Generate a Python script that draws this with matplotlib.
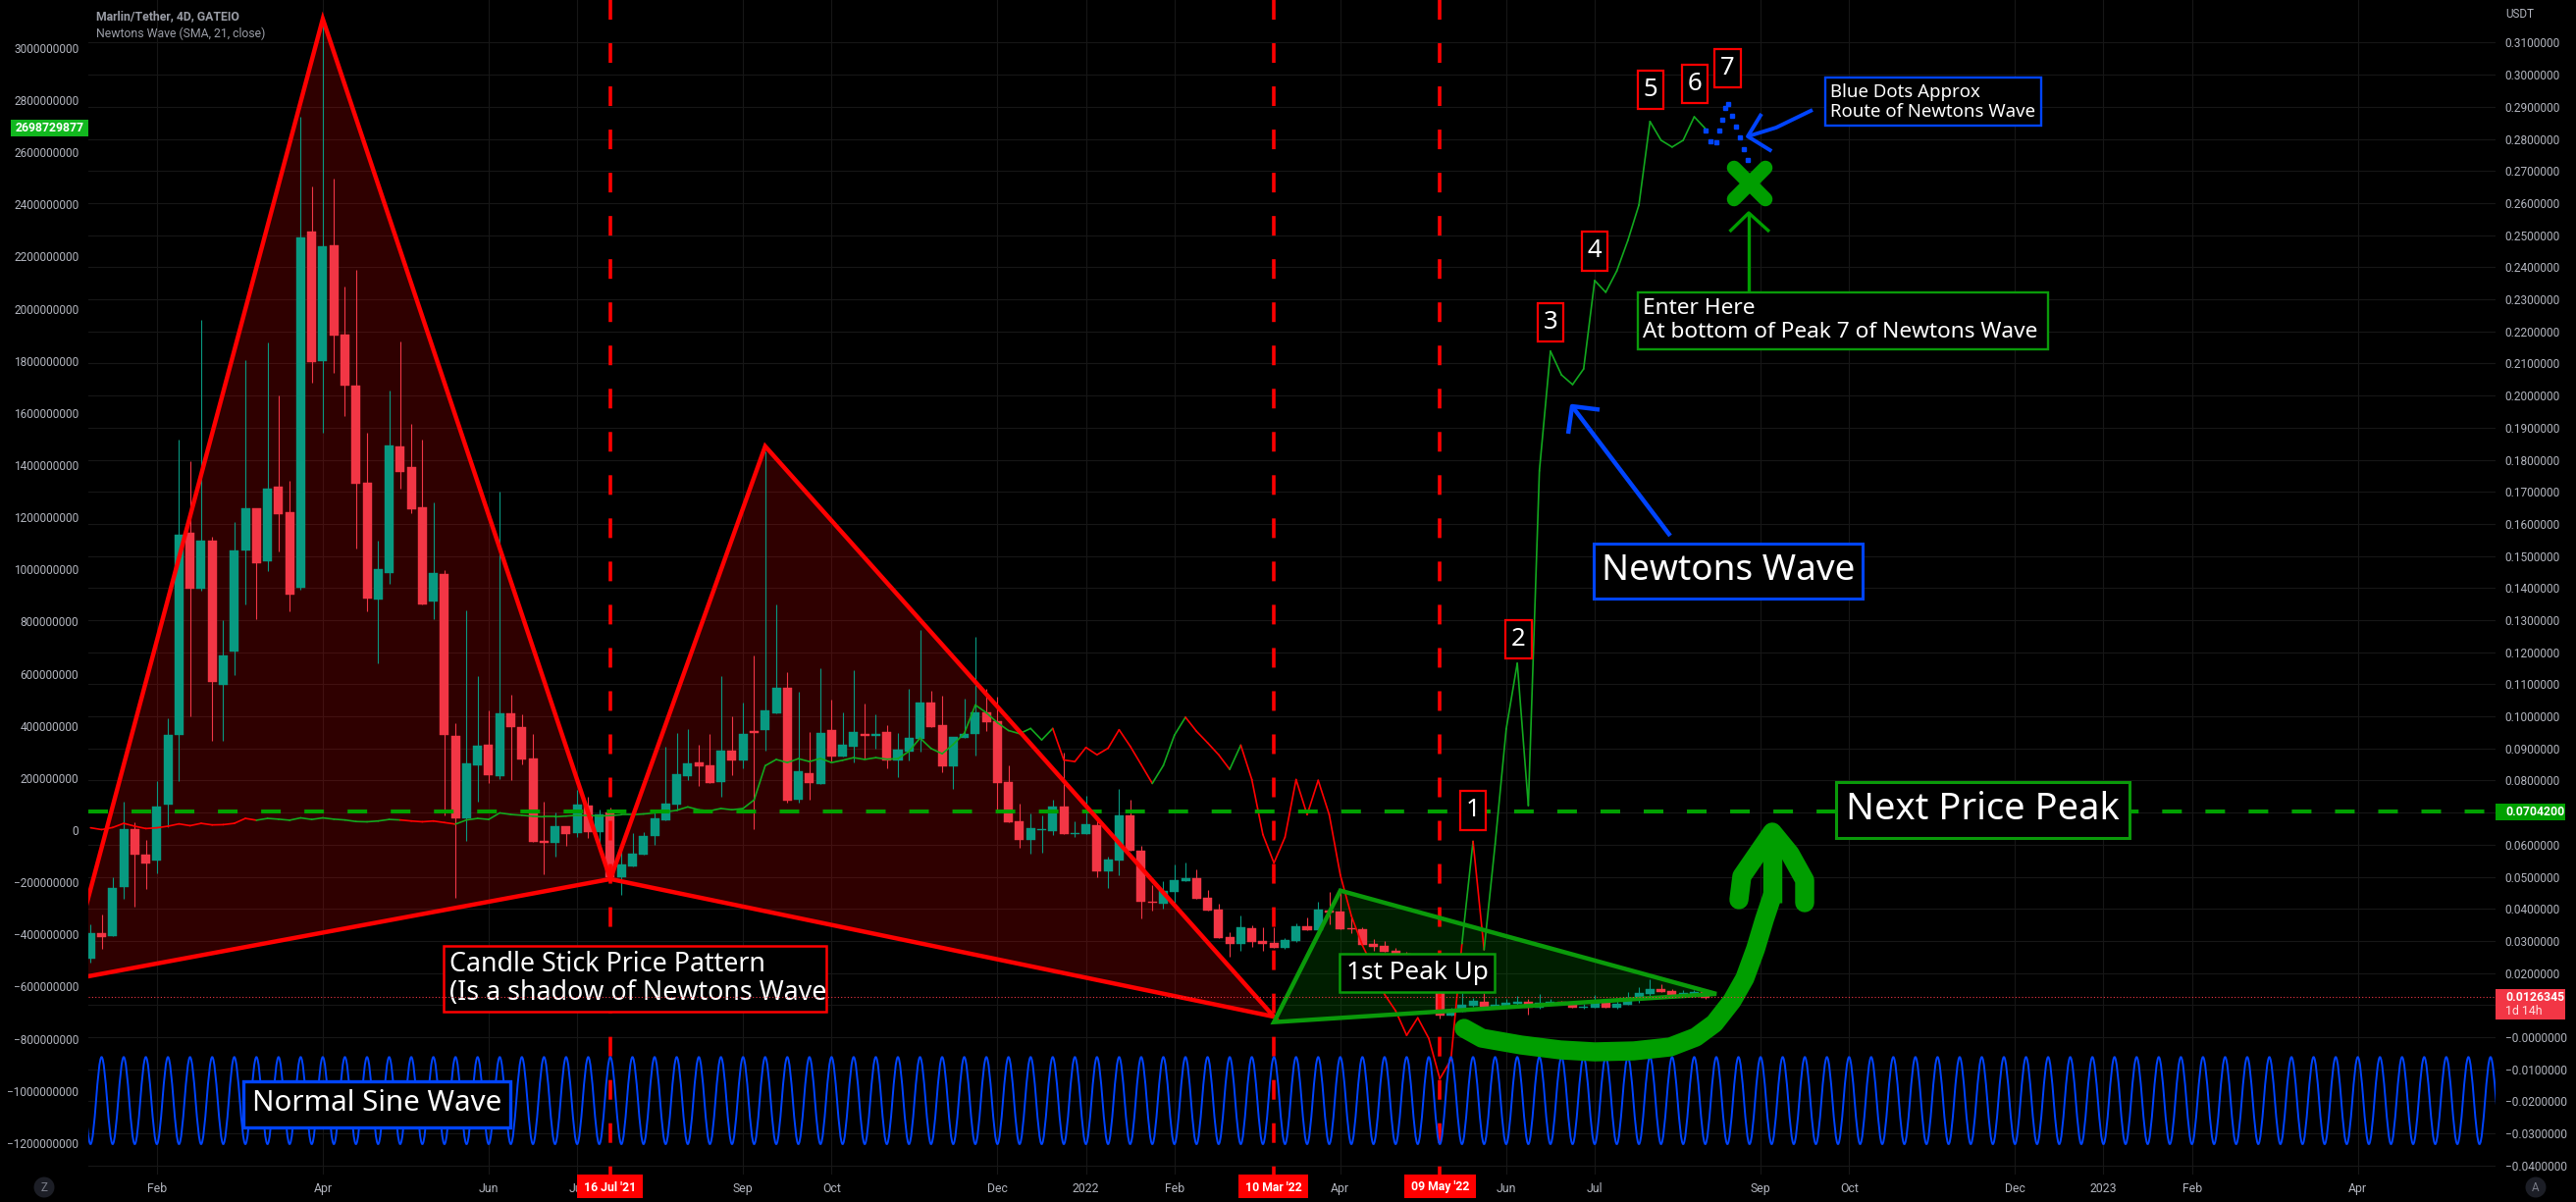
import numpy as np
import matplotlib
matplotlib.use('Agg')
import matplotlib.pyplot as plt
from matplotlib.patches import Rectangle, Polygon, Circle, PathPatch
from matplotlib.path import Path
from matplotlib.transforms import Affine2D

W, H = 2625, 1225
UI_FONT = 'Roboto'
NOTE_FONT = 'Noto Sans'

# candles, one every 4 days, first_bar is counted from the 16 Jul '21 bar
first_bar = -47
opens = [
    .0245, .0324, .0315, .0468, .0649, .0569, .0551, .0725, .0941, .1572,
    .1398, .1548, .1098, .1202, .1517, .1649, .1484, .1716, .1637, .1401,
    .2511, .2108, .2469, .2190, .2031, .1728, .1364, .1447, .1842, .1777,
    .1652, .1358, .1444, .0939, .0682, .0847, .0912, .0814, .1009, .0967,
    .0869, .0612, .0606, .0658, .0636, .0722, .0639, .0701, .0499, .0532,
    .0569, .0627, .0676, .0725, .0814, .0857, .0847, .0795, .0893, .0863,
    .0954, .0957, .1009, .1089, .0740, .0823, .0789, .0957, .0875, .0905,
    .0945, .0939, .0951, .0863, .0890, .0930, .1043, .0973, .0844, .0933,
    .0945, .1013, .0985, .0795, .0673, .0615, .0645, .0642, .0719, .0633,
    .0633, .0661, .0517, .0551, .0691, .0581, .0422, .0416, .0453, .0486,
    .0496, .0434, .0398, .0312, .0291, .0340, .0300, .0294, .0278, .0300,
    .0346, .0333, .0395, .0392, .0340, .0336, .0291, .0284, .0269, .0260,
    .0236, .0205, .0174, .0067, .0080, .0098, .0110, .0095, .0098, .0104,
    .0110, .0092, .0104, .0110, .0107, .0092, .0092, .0107, .0092, .0101,
    .0119, .0135, .0150, .0144, .0128, .0135, .0141]
highs = [
    .0352, .0382, .0499, .0734, .0670, .0615, .0798, .0994, .1863, .1796,
    .2236, .1559, .1300, .1606, .2111, .1649, .2166, .2001, .1734, .2869,
    .2652, .3172, .2677, .2340, .2392, .1884, .1548, .2016, .2169, .1912,
    .1863, .1667, .1456, .0979, .1331, .1126, .1019, .1701, .1068, .1006,
    .0945, .0734, .0701, .0658, .0771, .0749, .0710, .0716, .0593, .0636,
    .0639, .0704, .0905, .0948, .0961, .0912, .0945, .1126, .1000, .1043,
    .1190, .1826, .1349, .1138, .1077, .0951, .1150, .1052, .1013, .1144,
    .1040, .1006, .0973, .0948, .1086, .1269, .1080, .1065, .0936, .1055,
    .1248, .1086, .1061, .0847, .0728, .0697, .0691, .0740, .0887, .0673,
    .0753, .0679, .0563, .0774, .0740, .0597, .0474, .0486, .0538, .0545,
    .0523, .0459, .0416, .0327, .0379, .0349, .0343, .0343, .0309, .0355,
    .0373, .0422, .0453, .0453, .0373, .0343, .0306, .0300, .0278, .0266,
    .0245, .0210, .0190, .0092, .0138, .0122, .0138, .0122, .0119, .0128,
    .0119, .0135, .0119, .0113, .0107, .0104, .0132, .0110, .0113, .0141,
    .0156, .0180, .0165, .0150, .0147, .0147, .0144]
lows = [
    .0232, .0275, .0315, .0431, .0407, .0462, .0511, .0655, .0798, .1000,
    .1393, .0924, .0924, .1129, .1349, .1303, .1453, .1514, .1328, .1395,
    .2040, .1884, .2071, .1936, .1523, .1328, .1165, .1413, .1710, .1634,
    .1349, .1303, .0691, .0434, .0612, .0734, .0792, .0805, .0801, .0850,
    .0609, .0508, .0563, .0597, .0624, .0621, .0593, .0499, .0444, .0532,
    .0569, .0600, .0676, .0707, .0801, .0783, .0792, .0749, .0817, .0838,
    .0649, .0893, .1009, .0731, .0731, .0740, .0789, .0860, .0875, .0857,
    .0869, .0899, .0838, .0811, .0863, .0890, .0967, .0826, .0774, .0933,
    .0878, .0954, .0710, .0670, .0590, .0572, .0575, .0630, .0633, .0624,
    .0633, .0499, .0465, .0505, .0581, .0370, .0395, .0401, .0410, .0486,
    .0431, .0395, .0309, .0251, .0269, .0281, .0269, .0278, .0275, .0297,
    .0333, .0333, .0352, .0336, .0324, .0288, .0269, .0266, .0251, .0230,
    .0200, .0170, .0058, .0067, .0080, .0095, .0092, .0092, .0095, .0101,
    .0070, .0089, .0101, .0101, .0092, .0089, .0092, .0092, .0089, .0101,
    .0107, .0122, .0141, .0125, .0125, .0132, .0119]
closes = [
    .0324, .0312, .0465, .0649, .0569, .0541, .0719, .0942, .1566, .1398,
    .1548, .1107, .1190, .1517, .1649, .1478, .1710, .1630, .1380, .2493,
    .2105, .2466, .2187, .2031, .1725, .1367, .1459, .1845, .1762, .1646,
    .1349, .1447, .0941, .0682, .0853, .0909, .0817, .1009, .0967, .0866,
    .0609, .0606, .0658, .0633, .0725, .0639, .0694, .0499, .0538, .0572,
    .0627, .0682, .0728, .0820, .0853, .0844, .0792, .0893, .0863, .0945,
    .0948, .1019, .1089, .0737, .0829, .0792, .0948, .0875, .0912, .0951,
    .0939, .0945, .0863, .0896, .0933, .1043, .0967, .0844, .0936, .0945,
    .1013, .0982, .0792, .0670, .0615, .0652, .0649, .0719, .0633, .0636,
    .0664, .0517, .0554, .0691, .0581, .0422, .0419, .0456, .0489, .0496,
    .0431, .0395, .0309, .0291, .0343, .0297, .0291, .0278, .0303, .0346,
    .0333, .0398, .0388, .0336, .0336, .0288, .0281, .0266, .0260, .0236,
    .0205, .0174, .0067, .0086, .0101, .0113, .0095, .0101, .0107, .0110,
    .0092, .0107, .0110, .0104, .0092, .0095, .0107, .0092, .0104, .0122,
    .0138, .0150, .0141, .0128, .0138, .0141, .0122]

# Newtons Wave indicator, left scale, in millions
wave_millions = [
    9, 2, 10, 26, 15, 6, 9, 15, 24, 17,
    26, 20, 21, 26, 45, 38, 45, 42, 38, 47,
    41, 47, 42, 39, 33, 32, 35, 41, 39, 35,
    32, 35, 29, 23, 39, 45, 41, 66, 60, 57,
    53, 51, 51, 54, 57, 57, 54, 56, 59, 59,
    62, 66, 70, 76, 89, 78, 74, 83, 78, 83,
    116, 247, 271, 259, 274, 263, 275, 259, 268, 278,
    271, 278, 272, 274, 302, 353, 313, 293, 329, 371,
    480, 450, 412, 382, 370, 390, 346, 390, 269, 263,
    317, 289, 314, 385, 322, 251, 179, 248, 364, 433,
    379, 335, 289, 233, 326, 194, -17, -126, -27, 194,
    59, 191, 59, -172, -329, -442, -530, -630, -693, -787,
    -720, -799, -954, -881, -435, -43, -459, -53, 388, 640,
    94, 1378, 1837, 1746, 1709, 1769, 2108, 2063, 2145, 2262,
    2398, 2718, 2646, 2620, 2646, 2736, 2691]
wave_red_spans = [(-47, -32), (-19, -14), (40, 49), (52, 56), (57, 77), (78, 79)]

date_bars = [-41, -26, -11, -3, 12, 20, 35, 43, 51, 66, 81, 89, 104, 112, 127, 135, 143, 158]
date_labels = ['Feb', 'Apr', 'Jun', 'Jul', 'Sep', 'Oct', 'Dec', '2022', 'Feb', 'Apr', 'Jun',
               'Jul', 'Sep', 'Oct', 'Dec', '2023', 'Feb', 'Apr']
marked_bars = [0, 60, 75]
marked_labels = ["16 Jul '21", "10 Mar '22", "09 May '22"]

right_ticks = [round(0.31 - 0.01 * k, 2) for k in range(36)]
left_ticks = [3000000000 - 200000000 * k for k in range(22)]

level_price = 0.0704
last_price = 0.0126
sine_high = -0.0062
sine_low = -0.0333

# pattern vertices, (bar, price)
red_left = [(-49.2, .0177), (-26, .3174), (0, .0493)]
red_right = [(0, .0493), (14, .1842), (60, .0064)]
green_tri = [(60, .0047), (66, .0457), (100, .0135)]

fig = plt.figure(figsize=(W / 100, H / 100), dpi=100, facecolor='black')
plt.rcParams['lines.scale_dashes'] = False
px = Affine2D().scale(1 / W, -1 / H).translate(0, 1) + fig.transFigure

ax = fig.add_axes([90 / W, 1 - 1197 / H, (2543 - 90) / W, 1197 / H])
ax_left = ax.twinx()
ax.set_zorder(2)
ax.patch.set_visible(False)
ax_left.patch.set_visible(False)
ax.set_xlim(-47.2, 170.45)
ax.set_ylim(-0.0428, 0.3233)
ax_left.set_ylim(-1321000000, 3184000000)
for a in (ax, ax_left):
    for s in a.spines.values():
        s.set_visible(False)

# axes
ax.yaxis.tick_right()
ax.set_yticks(right_ticks)
right_labels = []
for t in right_ticks:
    if t in (0.07, 0.01):
        right_labels.append('')
    elif t <= 0:
        right_labels.append('\u2212%.7f' % abs(t))
    else:
        right_labels.append('%.7f' % t)
ax.set_yticklabels(right_labels, fontfamily=UI_FONT, fontsize=8.6, color='#b2b5be')
ax.tick_params(axis='y', length=0, pad=7)
ax_left.yaxis.tick_left()
ax_left.set_yticks(left_ticks)
ax_left.set_yticklabels([str(t).replace('-', '\u2212') for t in left_ticks],
                        fontfamily=UI_FONT, fontsize=8.6, color='#b2b5be')
ax_left.tick_params(axis='y', length=0, pad=7)
ax.set_xticks(date_bars)
ax.set_xticklabels(date_labels, fontfamily=UI_FONT, fontsize=8.8, color='#b2b5be')
ax.tick_params(axis='x', length=0, pad=6)
ax.grid(True, color='#161616', lw=0.8, zorder=0)
ax.set_axisbelow(True)

# pattern fills go under the candles
for tri, col in [(red_left, (1, 0, 0, .19)), (red_right, (1, 0, 0, .19)), (green_tri, (0, .6, 0, .2))]:
    ax.add_patch(Polygon(tri, closed=True, fc=col, ec='none', zorder=1))

# candles
bars = np.arange(first_bar, first_bar + len(opens))
o, h, l, c = map(np.array, (opens, highs, lows, closes))
cols = np.where(c >= o, '#089981', '#f23645')
ax.vlines(bars, l, h, colors=cols, lw=0.8, zorder=2)
ax.bar(bars, np.abs(c - o), bottom=np.minimum(o, c), width=0.8, color=cols,
       edgecolor=cols, lw=0.3, zorder=2.1)

# wave
wave = np.array(wave_millions) * 1000000
for k in range(len(wave) - 1):
    b = bars[k]
    red = any(s <= b < e for s, e in wave_red_spans)
    ax.plot(bars[k:k + 2], wave[k:k + 2], color='#ff0000' if red else '#12a81e', lw=1.2,
            transform=ax_left.transData, zorder=3, solid_capstyle='round')

# levels
ax.plot([-47.2, 170.45], [level_price, level_price], color='#00a000', lw=2.9,
        dashes=(14.4, 17.3), zorder=3.5)
ax.plot([-47.2, 170.45], [last_price, last_price], color='#f23645', lw=0.8,
        dashes=(0.8, 1.6), zorder=8)
for b in marked_bars:
    ax.plot([b, b], [0.3233, -0.0428], color='#ff0000', lw=2.6, dashes=(14.4, 17.3), zorder=4)

# pattern outlines
for tri, col in [(red_left, '#ff0000'), (red_right, '#ff0000'), (green_tri, '#0a9a0a')]:
    ax.add_patch(Polygon(tri, closed=True, fc='none', ec=col, lw=3.2, zorder=4, joinstyle='miter'))

# sine drawing, one extreme per bar, bezier between them
sine_bars = np.arange(-48, 172)
sine_vals = [sine_high if b % 2 == 0 else sine_low for b in sine_bars]
verts = [(sine_bars[0], sine_vals[0])]
codes = [Path.MOVETO]
for k in range(1, len(sine_bars)):
    verts += [(sine_bars[k - 1] + 0.3642, sine_vals[k - 1]),
              (sine_bars[k] - 0.3642, sine_vals[k]),
              (sine_bars[k], sine_vals[k])]
    codes += [Path.CURVE4] * 3
ax.add_patch(PathPatch(Path(verts, codes), fc='none', ec='#0044ff', lw=1.4, zorder=4.5))

# hand drawn strokes, placed in screen pixels
def stroke(xs, ys, col, lw, cap='butt', z=5):
    ax.plot(xs, ys, color=col, lw=lw, transform=px, solid_capstyle=cap, solid_joinstyle='round',
            zorder=z, clip_on=False)

BLUE = '#0044ff'
GREEN = '#009e00'
stroke([1492, 1510, 1550, 1590, 1625, 1665, 1702, 1728, 1747, 1765, 1778, 1789, 1798, 1806],
       [1048, 1058, 1065, 1070, 1072, 1071, 1067, 1057, 1043, 1020, 997, 967, 937, 913],
       GREEN, 14, cap='round')
stroke([1772, 1775, 1806, 1824, 1839, 1839], [917, 893, 848, 870, 897, 920], GREEN, 14, cap='round')
stroke([1806, 1806], [855, 920], GREEN, 14, cap='butt')
# newtons wave arrow
stroke([1702, 1602], [546, 414], BLUE, 3.2)
stroke([1598, 1602, 1630], [442, 414, 417.5], BLUE, 3.2)
# blue dots arrow
stroke([1847, 1810, 1781], [112, 130, 139], BLUE, 2.8)
stroke([1795, 1781, 1805.3], [116, 139, 154], BLUE, 2.8)
# dotted route
route_x = [1738, 1743.3, 1749, 1751.7, 1755, 1758, 1760.7, 1764.7, 1768.7, 1772.7, 1777, 1781]
route_y = [133.3, 144.3, 145, 133.3, 121.7, 110, 106, 117.7, 129.3, 140.3, 152, 163.3]
ax.plot(route_x, route_y, ls='none', marker='s', ms=2.8, color=BLUE, transform=px, zorder=5, clip_on=False)
# entry marker and arrow
stroke([1767, 1799], [171, 203], GREEN, 10.5, cap='round')
stroke([1767, 1799], [203, 171], GREEN, 10.5, cap='round')
stroke([1782, 1782], [297, 217], GREEN, 2.4)
stroke([1762.5, 1782, 1803], [236, 217, 236], GREEN, 2.4)

# text boxes
def box(x0, y0, x1, y1, edge, lw, z=6, fill='black'):
    ax.add_patch(Rectangle((x0, y0), x1 - x0, y1 - y0, fc=fill, ec=edge, lw=lw, transform=px,
                           zorder=z, clip_on=False))

def label(x, y, s, fs, col='white', ha='left', weight='normal', family=NOTE_FONT, z=7):
    ax.text(x, y, s, fontsize=fs, color=col, ha=ha, va='center', fontweight=weight, family=family,
            transform=px, zorder=z, clip_on=False)

RED = '#ff0000'
BOXGREEN = '#0a9a0a'
for s, x0, y0, x1, y1 in [('1', 1488, 806, 1514, 846), ('2', 1534, 632, 1561, 671),
                          ('3', 1567, 309, 1593, 348), ('4', 1612, 236, 1638, 276),
                          ('5', 1669, 72, 1695, 111), ('6', 1714, 66, 1740, 105),
                          ('7', 1747, 50, 1774, 89)]:
    box(x0, y0, x1, y1, RED, 1.6)
    label((x0 + x1) / 2, (y0 + y1) / 2, s, 18.5, ha='center')

box(1860, 79, 2080, 128, BLUE, 1.7)
label(1865, 94, 'Blue Dots Approx', 13.4)
label(1865, 114, 'Route of Newtons Wave', 13.4)
box(1669, 298, 2087, 356, BOXGREEN, 1.7)
label(1674, 315, 'Enter Here', 16.3)
label(1674, 339, 'At bottom of Peak 7 of Newtons Wave', 16.3)
box(1624, 554, 1898, 610, BLUE, 2.2)
label(1761, 582, 'Newtons Wave', 26.6, ha='center')
box(1871, 797, 2170, 854, BOXGREEN, 2.2)
label(2020, 825, 'Next Price Peak', 27.4, ha='center')
box(1365, 972, 1523, 1011, BOXGREEN, 1.8)
label(1444, 992, '1st Peak Up', 18.8, ha='center')
box(452, 964, 842, 1031, RED, 1.8)
label(458, 983, 'Candle Stick Price Pattern', 19.3)
label(458, 1012, '(Is a shadow of Newtons Wave', 19.3)
box(248, 1102, 520, 1149, BLUE, 2.4)
label(384, 1125, 'Normal Sine Wave', 21.3, ha='center')

# chart header
label(98, 17, 'Marlin/Tether, 4D, GATEIO', 8.8, col='#9a9da6', weight='bold', family=UI_FONT)
label(98, 34, 'Newtons Wave (SMA, 21, close)', 8.8, col='#9a9da6', family=UI_FONT)
label(2553, 14, 'USDT', 8.4, col='#b2b5be', family=UI_FONT)

# price tags
box(11, 122, 90, 139, 'none', 0, fill='#12b81f')
label(16, 130.5, '2698729877', 8.8, weight='bold', family=UI_FONT)
box(2543, 819, 2614, 836, 'none', 0, fill='#00a000')
label(2553, 827.5, '0.0704200', 8.8, weight='bold', family=UI_FONT)
box(2543, 1008, 2614, 1039, 'none', 0, fill='#f23645')
label(2553, 1016.5, '0.0126345', 8.8, weight='bold', family=UI_FONT)
label(2553, 1031, '1d 14h', 8.8, col='#ffdfe2', family=UI_FONT)

# marked dates on the time scale
for b, s, x0, x1 in zip(marked_bars, marked_labels, [588, 1262, 1431], [655, 1333, 1504]):
    box(x0, 1197, x1, 1221, 'none', 0, fill=RED)
    label((x0 + x1) / 2, 1210, s, 8.8, ha='center', weight='bold', family=UI_FONT)

# corner buttons
for x, s in [(45, 'Z'), (2584, 'A')]:
    ax.add_patch(Circle((x, 1210), 10.5, fc='#1c1e26', ec='none', transform=px, zorder=6, clip_on=False))
    label(x, 1210, s, 8.4, col='#787b86', ha='center', family=UI_FONT)

fig.savefig('out.png', dpi=100, facecolor='black')
